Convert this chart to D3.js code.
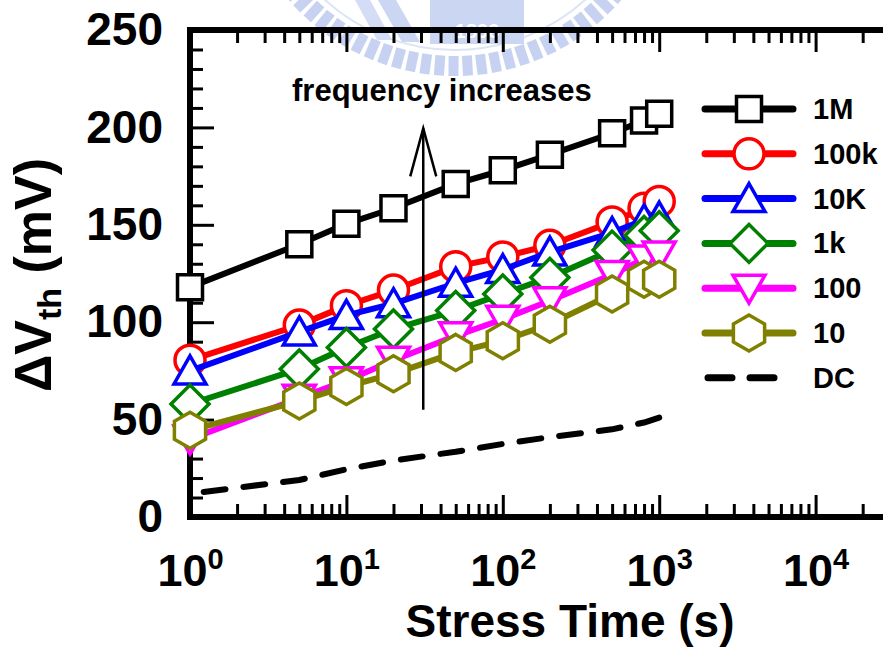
<!DOCTYPE html>
<html>
<head>
<meta charset="utf-8">
<script src="https://cdn.jsdelivr.net/npm/d3@7"></script>
<style>
  body { margin: 0; background: #fff; }
  svg text { font-family: Arial, 'Liberation Sans', sans-serif; font-weight: bold; }
</style>
</head>
<body>
<div id="container"></div>
<script>
// stress times (s)
const times = [1, 5, 10, 20, 50, 100, 200, 500, 800, 1000];

// threshold voltage shift (mV) per stress frequency
const dv1M   = [118, 140, 150.5, 158.5, 171, 178, 186, 197, 203.5, 207];
const dv100k = [80.5, 98.5, 108.5, 116.5, 128.5, 133.5, 139.5, 151.5, 158.5, 162];
const dv10K  = [75, 95, 103.5, 109.5, 120, 127, 136, 146, 152.5, 154];
const dv1k   = [58, 76, 87, 96.5, 106, 114.5, 123, 137, 144.5, 147];
const dv100  = [40, 61, 70, 80.5, 93, 101.5, 111, 124.5, 132.5, 134.5];
const dv10   = [44.5, 59.5, 67, 73.5, 84.5, 90.5, 99, 114.5, 122, 122];
const dvDC   = [12, 19, 24.5, 29, 33.5, 37.5, 41, 45, 48.5, 51];

const seriesNames = ['1M', '100k', '10K', '1k', '100', '10', 'DC'];
const seriesColors = ['#000000', '#ff0000', '#0000ff', '#008000', '#ff00ff', '#808000', '#000000'];
const seriesMarkers = ['square', 'circle', 'up', 'diamond', 'down', 'hex', 'none'];
const seriesValues = [dv1M, dv100k, dv10K, dv1k, dv100, dv10, dvDC];

const xMajor = [1, 10, 100, 1000, 10000, 100000];
const xLabelled = [1, 10, 100, 1000, 10000];
const yMajor = [0, 50, 100, 150, 200, 250];

let viz = d3.select('#container')
    .append('svg')
    .attr('width', 883)
    .attr('height', 647)
    ;

let x = d3.scaleLog().domain([1, 1e5]).range([190, 972]);
let y = d3.scaleLinear().domain([0, 250]).range([517, 30]);

// faint watermark behind the chart
let wm = viz.append('g').attr('opacity', 0.6);
let wmx = 455, wmy = -144;
wm.selectAll('.tooth').data(d3.range(22, 160, 3.8)).enter()
    .append('rect')
    .attr('x', -5).attr('y', 200).attr('width', 10).attr('height', 20)
    .attr('fill', '#a3b5ea')
    .attr('transform', a => 'translate(' + wmx + ',' + wmy + ') rotate(' + (a - 90) + ')');
wm.append('circle').attr('cx', wmx).attr('cy', wmy).attr('r', 194)
    .attr('fill', 'none').attr('stroke', '#c8d3f3').attr('stroke-width', 2);
wm.append('rect').attr('x', 430).attr('y', 0).attr('width', 94).attr('height', 44).attr('fill', '#a9bbec');
wm.append('text').attr('x', 477).attr('y', 38).attr('text-anchor', 'middle')
    .attr('font-size', 20).attr('fill', '#ffffff').text('1896');
wm.append('path').attr('d', 'M 378 0 L 396 0 L 420 42 L 402 42 Z').attr('fill', '#a9bbec');
wm.append('path').attr('d', 'M 355 0 L 370 0 L 392 40 L 377 40 Z').attr('fill', '#b8c7f0');

// ticks
function styleTicks(g) {
    g.select('.domain').remove();
    g.selectAll('.tick line').attr('stroke', '#000').attr('stroke-width', 3);
}

let xMinor = [];
[1, 10, 100, 1000, 10000].forEach(d => { for (let k = 2; k < 10; k++) xMinor.push(d * k); });
let yMinor = d3.range(0, 251, 10).filter(v => v % 50 != 0);

viz.append('g').attr('transform', 'translate(0,517)')
    .call(d3.axisBottom(x).tickValues(xMinor).tickSize(-13).tickFormat(''))
    .call(styleTicks);
viz.append('g').attr('transform', 'translate(0,517)')
    .call(d3.axisBottom(x).tickValues(xMajor).tickSize(-22).tickFormat(''))
    .call(styleTicks);
let xAxis = viz.append('g').attr('transform', 'translate(0,517)')
    .call(d3.axisBottom(x).tickValues(xLabelled).tickSize(0).tickPadding(37).tickFormat(''));
xAxis.select('.domain').remove();
xAxis.selectAll('.tick text')
    .attr('font-size', 45).attr('fill', '#000')
    .each(function (d) {
        let t = d3.select(this);
        t.append('tspan').text('10');
        t.append('tspan').attr('font-size', 29).attr('dy', '-0.6em').text(Math.round(Math.log10(d)));
    });

viz.append('g').attr('transform', 'translate(0,30)')
    .call(d3.axisTop(x).tickValues(xMinor).tickSize(-13).tickFormat(''))
    .call(styleTicks);
viz.append('g').attr('transform', 'translate(0,30)')
    .call(d3.axisTop(x).tickValues(xMajor).tickSize(-22).tickFormat(''))
    .call(styleTicks);

viz.append('g').attr('transform', 'translate(190,0)')
    .call(d3.axisLeft(y).tickValues(yMinor).tickSize(-13).tickFormat(''))
    .call(styleTicks);
let yAxis = viz.append('g').attr('transform', 'translate(190,0)')
    .call(d3.axisLeft(y).tickValues(yMajor).tickSize(-24).tickPadding(27))
    .call(styleTicks);
yAxis.selectAll('.tick text').attr('font-size', 46).attr('fill', '#000');

// frame
let frame = viz.append('g').attr('stroke', '#000').attr('stroke-width', 6).attr('stroke-linecap', 'square');
frame.append('line').attr('x1', x(1)).attr('x2', x(1)).attr('y1', y(0)).attr('y2', y(250));
frame.append('line').attr('x1', x(1)).attr('x2', x(1e5)).attr('y1', y(0)).attr('y2', y(0));
frame.append('line').attr('x1', x(1)).attr('x2', x(1e5)).attr('y1', y(250)).attr('y2', y(250));

// axis titles
viz.append('text').attr('x', 570).attr('y', 637).attr('text-anchor', 'middle')
    .attr('font-size', 46).text('Stress Time (s)');
let yt = viz.append('text').attr('transform', 'translate(51,275) rotate(-90)')
    .attr('text-anchor', 'middle').attr('font-size', 52);
yt.append('tspan').text('\u0394V');
yt.append('tspan').attr('font-size', 34).attr('dy', '0.3em').text('th');
yt.append('tspan').attr('dy', '-0.2em').text(' (mV)');

// marker shapes
function markerPath(type) {
    if (type == 'square') return 'M -12.5 -12.5 H 12.5 V 12.5 H -12.5 Z';
    if (type == 'circle') return 'M -15 0 A 15 15 0 1 0 15 0 A 15 15 0 1 0 -15 0 Z';
    if (type == 'up') return 'M 0 -15 L 16 13 L -16 13 Z';
    if (type == 'down') return 'M 0 15 L 16 -13 L -16 -13 Z';
    if (type == 'diamond') return 'M 0 -19 L 19 0 L 0 19 L -19 0 Z';
    if (type == 'hex') return 'M 0 -18 L 15.6 -9 L 15.6 9 L 0 18 L -15.6 9 L -15.6 -9 Z';
    return '';
}

let line = d3.line().x(d => x(d[0])).y(d => y(d[1]));

seriesValues.forEach((vals, i) => {
    let pts = times.map((t, j) => [t, vals[j]]);
    let g = viz.append('g');
    let path = g.append('path')
        .attr('d', line(pts))
        .attr('fill', 'none')
        .attr('stroke', seriesColors[i])
        .attr('stroke-width', 6)
        .attr('stroke-linejoin', 'round');
    if (seriesMarkers[i] == 'none') {
        // make the dashed line finish on a dash, as in the original
        let len = path.node().getTotalLength();
        let off = ((22 - (len % 40)) + 40) % 40;
        path.attr('stroke-dasharray', '22,18')
            .attr('stroke-dashoffset', off)
            .attr('stroke-linecap', 'round');
        return;
    }
    g.selectAll('.mk').data(pts).enter()
        .append('path')
        .attr('d', markerPath(seriesMarkers[i]))
        .attr('transform', d => 'translate(' + x(d[0]) + ',' + y(d[1]) + ')')
        .attr('fill', '#fff')
        .attr('stroke', seriesColors[i])
        .attr('stroke-width', 3.5);
});

// arrow and note
let ax = x(31);
let arrow = viz.append('g').attr('stroke', '#000').attr('stroke-width', 2.5).attr('fill', 'none');
arrow.append('line').attr('x1', ax).attr('x2', ax).attr('y1', y(55)).attr('y2', y(199.5));
arrow.append('path').attr('d', 'M ' + (ax - 13) + ' ' + (y(199.5) + 48) + ' L ' + ax + ' ' + y(199.5) + ' L ' + (ax + 13) + ' ' + (y(199.5) + 48));
viz.append('text').attr('x', 292).attr('y', 101).attr('font-size', 31).text('frequency increases');

// legend
let legend = viz.selectAll('.legend').data(seriesNames).enter()
    .append('g')
    .attr('class', 'legend')
    .attr('transform', (d, i) => 'translate(749,' + (109 + i * 44.8) + ')');
legend.append('line')
    .attr('x1', (d, i) => seriesMarkers[i] == 'none' ? -41 : -44)
    .attr('x2', (d, i) => seriesMarkers[i] == 'none' ? 25 : 44)
    .attr('stroke', (d, i) => seriesColors[i])
    .attr('stroke-width', 7)
    .attr('stroke-linecap', 'round')
    .attr('stroke-dasharray', (d, i) => seriesMarkers[i] == 'none' ? '24,18' : null);
legend.append('path')
    .attr('d', (d, i) => markerPath(seriesMarkers[i]))
    .attr('fill', '#fff')
    .attr('stroke', (d, i) => seriesColors[i])
    .attr('stroke-width', 3.5);
legend.append('text')
    .attr('x', 64).attr('y', 10)
    .attr('font-size', 29)
    .text(d => d);
</script>
</body>
</html>
